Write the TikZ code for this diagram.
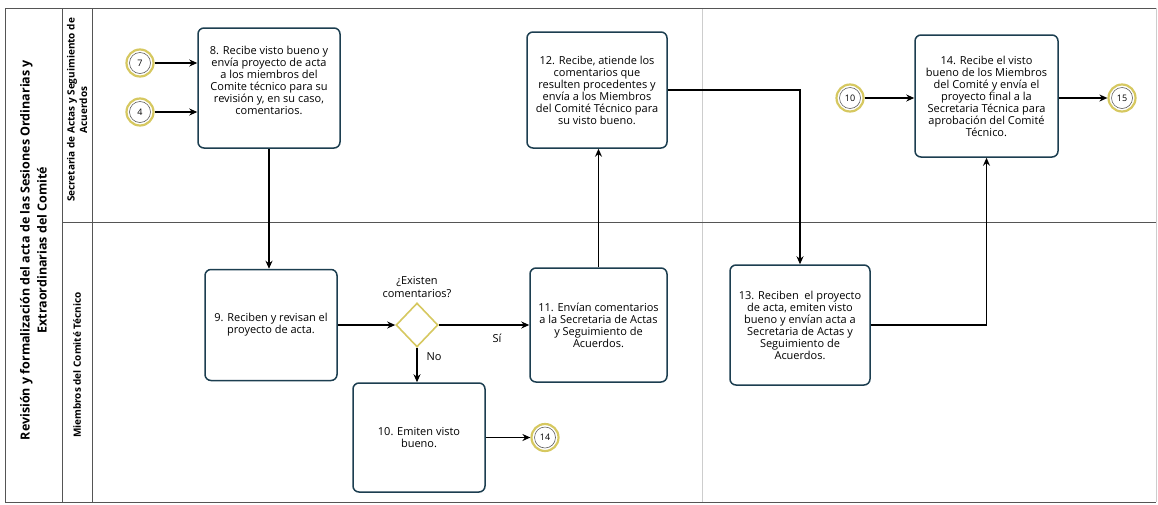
\documentclass[tikz,border=0pt]{standalone}
\usepackage{fontspec}
\setmainfont{Open Sans}
\usetikzlibrary{arrows.meta,shapes.geometric}
\definecolor{boxline}{RGB}{28,62,80}
\definecolor{ringgold}{RGB}{214,200,96}
\definecolor{ringgray}{RGB}{95,95,95}
\definecolor{frameline}{RGB}{85,85,85}
\definecolor{pageline}{RGB}{205,205,205}

\begin{document}
\begin{tikzpicture}[x=1pt,y=-1pt,
  task/.style={draw=boxline, line width=1.5pt, rounded corners=6pt, fill=white,
    align=center, inner sep=0pt, font=\fontsize{11}{12}\selectfont},
  ref/.style={circle, draw=ringgold, line width=2.2pt, fill=white, minimum size=27pt,
    inner sep=0pt, font=\fontsize{9}{9}\selectfont,
    path picture={\draw[ringgray, line width=0.6pt]
      (path picture bounding box.center) circle (10.5pt);}},
  gate/.style={diamond, draw=ringgold, line width=1.6pt, fill=white,
    minimum width=42pt, minimum height=44pt, inner sep=0pt},
  flow/.style={line width=1.3pt, -{Stealth[length=8pt,width=7pt]}},
  lanelabel/.style={rotate=90, align=center, font=\bfseries\fontsize{10}{12.5}\selectfont},
  titlelabel/.style={rotate=90, align=center, font=\bfseries\fontsize{12.5}{17}\selectfont},
  lbl/.style={align=center, font=\fontsize{11}{12.5}\selectfont}
]
\useasboundingbox (0,0) rectangle (1158,504);

% pool frame and lanes
\draw[pageline, line width=0.8pt] (1156,8) -- (1156,502);
\draw[pageline, line width=0.8pt] (702,8) -- (702,502);
\draw[frameline, line width=1pt] (1156,8) -- (5,8) -- (5,502) -- (1156,502);
\draw[frameline, line width=0.8pt] (62,8) -- (62,502);
\draw[frameline, line width=0.8pt] (92,8) -- (92,502);
\draw[frameline, line width=0.8pt] (62,222) -- (1156,222);

\node[titlelabel] (pool) at (33.5,250) {Revisión y formalización del acta de las Sesiones Ordinarias y\\Extraordinarias del Comité};
\node[lanelabel] (laneA) at (77,110) {Secretaria de Actas y Seguimiento de\\Acuerdos};
\node[lanelabel] (laneB) at (77,365) {Miembros del Comité Técnico};

% tasks
\node[task, minimum width=142pt, minimum height=120pt] (b8) at (269,88)
  {8. Recibe visto bueno y\\envía proyecto de acta\\a los miembros del\\Comite técnico para su\\revisión y, en su caso,\\comentarios.\\[4pt]};
\node[task, minimum width=132pt, minimum height=111pt] (b9) at (271,325)
  {9. Reciben y revisan el\\proyecto de acta.};
\node[task, minimum width=132pt, minimum height=109pt] (b10) at (419,437.5)
  {10. Emiten visto\\bueno.};
\node[task, minimum width=137pt, minimum height=114pt] (b11) at (598.5,325)
  {11. Envían comentarios\\a la Secretaria de Actas\\y Seguimiento de\\Acuerdos.};
\node[task, minimum width=140pt, minimum height=116pt] (b12) at (597,90)
  {12. Recibe, atiende los\\comentarios que\\resulten procedentes y\\envía a los Miembros\\del Comité Técnico para\\su visto bueno.};
\node[task, minimum width=140pt, minimum height=120pt] (b13) at (800,325)
  {13. Reciben\ \ el proyecto\\de acta, emiten visto\\bueno y envían acta a\\Secretaria de Actas y\\Seguimiento de\\Acuerdos.};
\node[task, minimum width=143pt, minimum height=122pt] (b14) at (986.5,96)
  {14. Recibe el visto\\bueno de los Miembros\\del Comité y envía el\\proyecto final a la\\Secretaria Técnica para\\aprobación del Comité\\Técnico.};

% gateway
\node[gate] (g) at (417,325) {};
\node[lbl] (gq) at (417,287) {¿Existen\\comentarios?};
\node[lbl] (gno) at (434,357) {No};
\node[lbl] (gsi) at (497,338) {Sí};

% off-page references
\node[ref] (c7) at (140,63) {7};
\node[ref] (c4) at (140,112) {4};
\node[ref] (c14) at (545,437.5) {14};
\node[ref] (c10) at (850,98) {10};
\node[ref] (c15) at (1122,98) {15};

% flows
\draw[flow] (c7) -- (c7 -| b8.west);
\draw[flow] (c4) -- (c4 -| b8.west);
\draw[flow] (b8.south) -- (b8.south |- b9.north);
\draw[flow] (b9.east) -- (g.west);
\draw[flow] (g.east) -- (b11.west);
\draw[flow] (g.south) -- (g.south |- b10.north);
\draw[flow] (b10.east) -- (c14);
\draw[flow] (b11.north) -- (b11.north |- b12.south);
\draw[flow] (b12.east) -| (b13.north);
\draw[flow] (b13.east) -| (b14.south);
\draw[flow] (c10) -- (c10 -| b14.west);
\draw[flow] (b14.east |- c15) -- (c15);
\end{tikzpicture}
\end{document}
